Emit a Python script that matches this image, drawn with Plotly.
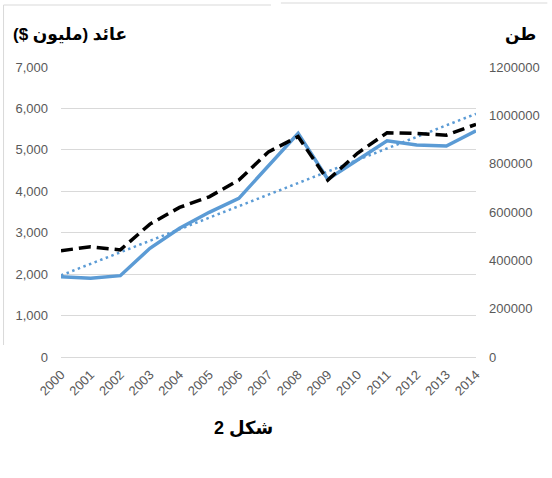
import plotly.graph_objects as go

# ── Dados ────────────────────────────────────────────────────────────────────
years = ["2000", "2001", "2002", "2003", "2004", "2005", "2006", "2007",
         "2008", "2009", "2010", "2011", "2012", "2013", "2014"]
revenue_musd = [1935, 1900, 1963, 2624, 3106, 3492, 3830, 4610,
                5400, 4290, 4755, 5220, 5117, 5093, 5462]
tonnage = [440000, 456000, 443000, 550000, 619000, 663000, 732000, 849000,
           912000, 732000, 843000, 928000, 925000, 918000, 963000]
trend_years = ["2000", "2014"]
trend_vals = [1970, 5870]

left_ticks = [0, 1000, 2000, 3000, 4000, 5000, 6000, 7000]
right_ticks = [0, 200000, 400000, 600000, 800000, 1000000, 1200000]

BLUE = "#5b9bd5"
GRID = "#d9d9d9"
TICK = "#595959"
FONT = "Liberation Sans, Arial, DejaVu Sans, sans-serif"

fig = go.Figure()
fig.add_trace(go.Scatter(
    x=years, y=revenue_musd, mode="lines", yaxis="y",
    line=dict(color=BLUE, width=3.5), showlegend=False,
))
fig.add_trace(go.Scatter(
    x=trend_years, y=trend_vals, mode="lines", yaxis="y",
    line=dict(color=BLUE, width=2.5, dash="2.5px,3.5px"), showlegend=False,
))
fig.add_trace(go.Scatter(
    x=years, y=tonnage, mode="lines", yaxis="y2",
    line=dict(color="#000000", width=3.5, dash="12px,6px"), showlegend=False,
))

fig.update_layout(
    width=552, height=478,
    margin=dict(l=61, r=72, t=67, b=121),
    paper_bgcolor="#ffffff", plot_bgcolor="#ffffff",
    font=dict(family=FONT, size=13, color=TICK),
    xaxis=dict(
        type="category", tickangle=-45, showgrid=False, zeroline=False,
        showline=True, linecolor=GRID, linewidth=1, ticks="",
        tickfont=dict(size=13, color=TICK), ticklabelstandoff=4,
    ),
    yaxis=dict(
        range=[0, 7000], tickvals=left_ticks, tickformat=",",
        showgrid=True, gridcolor=GRID, gridwidth=1, zeroline=False,
        showline=False, ticks="", ticklabelstandoff=12,
        tickfont=dict(size=13, color=TICK),
    ),
    yaxis2=dict(
        range=[0, 1200000], tickvals=right_ticks, tickformat="d",
        overlaying="y", side="right", showgrid=False, zeroline=False,
        showline=False, ticks="", ticklabelstandoff=12,
        tickfont=dict(size=13, color=TICK),
    ),
    showlegend=False,
)

# Títulos dos eixos e da figura
title_font = dict(family=FONT, size=17, color="#000000")
fig.add_annotation(text="<b>عائد (مليون $)</b>", xref="paper", yref="paper",
                   x=-0.12, y=1.0, xanchor="left", yanchor="bottom",
                   yshift=20, showarrow=False, font=title_font)
fig.add_annotation(text="<b>طن</b>", xref="paper", yref="paper",
                   x=1.065, y=1.0, xanchor="left", yanchor="bottom",
                   yshift=20, showarrow=False, font=title_font)
fig.add_annotation(text="<b>شكل 2</b>", xref="paper", yref="paper",
                   x=0.44, y=0.0, xanchor="center", yanchor="top",
                   yshift=-59, showarrow=False, font=dict(family=FONT, size=18,
                                                         color="#000000"))

# Moldura cinza clara da área do gráfico (resto do Excel)
border = dict(color=GRID, width=1)
for x0, y0, x1, y1 in ((3, 345, 3, 5), (3, 5, 273, 5), (283, 3, 552, 3)):
    fig.add_shape(type="line", xref="paper", yref="paper",
                  x0=(x0 - 61) / 419, x1=(x1 - 61) / 419,
                  y0=(357 - y0) / 290, y1=(357 - y1) / 290,
                  line=border)

# página sem a margem padrão do <body>, para a figura começar em (0, 0)
fig.write_html("out.html", config={"displayModeBar": False},
               post_script="document.body.style.margin='0px';")
